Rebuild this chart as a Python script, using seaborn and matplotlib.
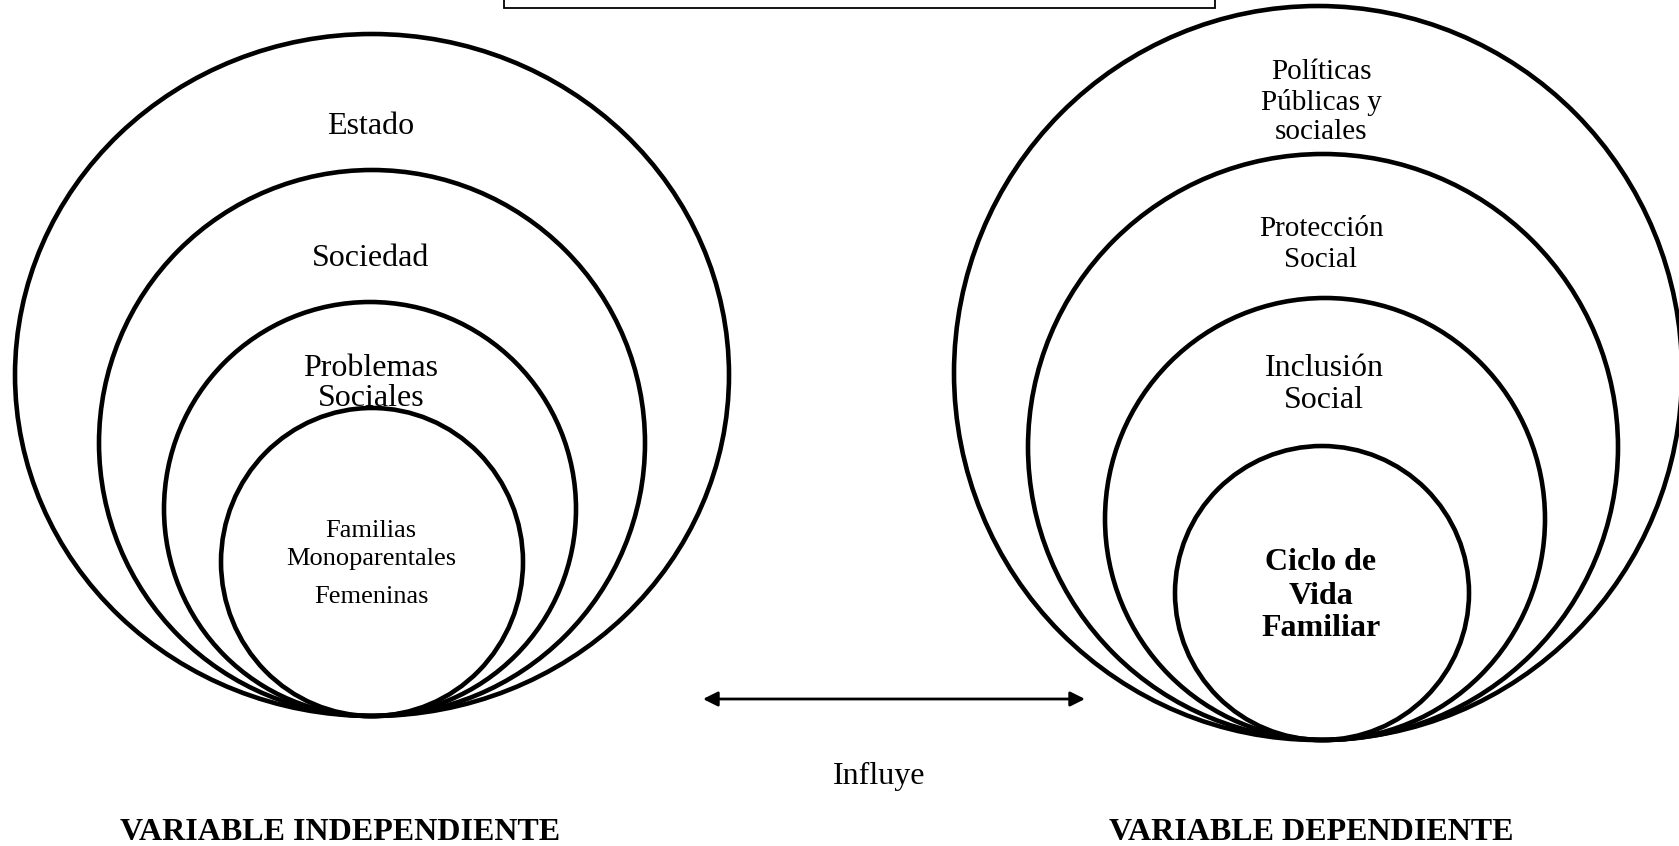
import matplotlib.pyplot as plt
import seaborn as sns
from matplotlib.patches import Ellipse, Rectangle

sns.set_style("white")
plt.rcParams['font.family'] = ['Liberation Serif', 'DejaVu Serif']
plt.rcParams['text.color'] = 'black'

# labels of the nested circles, outer to inner
left_labels = ["Estado", "Sociedad", "Problemas\nSociales", "Familias\nMonoparentales\nFemeninas"]
right_labels = ["Políticas\nPúblicas y\nsociales", "Protección\nSocial", "Inclusión\nSocial", "Ciclo de\nVida\nFamiliar"]
left_title = "VARIABLE INDEPENDIENTE"
right_title = "VARIABLE DEPENDIENTE"
arrow_label = "Influye"

# circle geometry in pixels (center x, width, height), all sitting on a common bottom
left_circles = [(372, 714, 682), (372, 546, 546), (370, 412, 414), (372, 302, 308)]
left_bottom = 716
right_circles = [(1318, 728, 734), (1323, 590, 586), (1325, 440, 442), (1322, 294, 294)]
right_bottom = 740

# text line centers (y) per label
left_text_y = [[126], [258], [368, 399], [531, 559, 597]]
right_text_y = [[72, 103, 132], [229, 260], [369, 401], [563, 597, 629]]
left_sizes = [23, 23, 23, 19]
right_sizes = [21, 21, 23, 23]

fig = plt.figure(figsize=(16.79, 8.46), dpi=100)
ax = fig.add_axes([0, 0, 1, 1])
ax.set_xlim(0, 1679)
ax.set_ylim(846, 0)
ax.axis('off')

for (cx, w, h) in left_circles:
    ax.add_patch(Ellipse((cx, left_bottom - h / 2), w, h, fill=False, lw=3.3, ec='black'))
for (cx, w, h) in right_circles:
    ax.add_patch(Ellipse((cx, right_bottom - h / 2), w, h, fill=False, lw=3.3, ec='black'))

for label, ys, fs in zip(left_labels, left_text_y, left_sizes):
    for line, y in zip(label.split("\n"), ys):
        ax.text(371, y, line, ha='center', va='center', fontsize=fs)

for i, (label, ys, fs) in enumerate(zip(right_labels, right_text_y, right_sizes)):
    weight = 'bold' if i == 3 else 'normal'
    xc = 1324 if i == 2 else 1321
    for line, y in zip(label.split("\n"), ys):
        ax.text(xc, y, line, ha='center', va='center', fontsize=fs, fontweight=weight)

# top box (cut off by the image edge)
ax.add_patch(Rectangle((504, -30), 711, 38, fill=False, lw=1.3, ec='black'))

# double arrow
ax.annotate("", xy=(1085, 699), xytext=(703, 699),
            arrowprops=dict(arrowstyle='<|-|>', color='black', lw=2, mutation_scale=22,
                            shrinkA=0, shrinkB=0))
ax.text(879, 776, arrow_label, ha='center', va='center', fontsize=23)

ax.text(340, 833, left_title, ha='center', va='center', fontsize=23, fontweight='bold')
ax.text(1311, 833, right_title, ha='center', va='center', fontsize=23, fontweight='bold')

fig.savefig("out.png", dpi=100, facecolor='white')
